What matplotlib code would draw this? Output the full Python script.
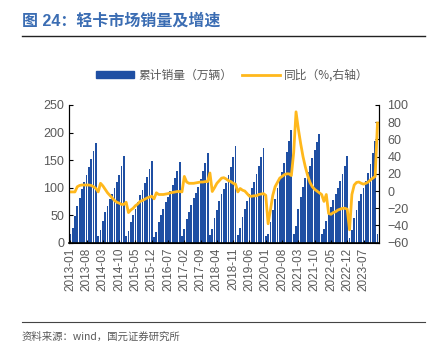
# 轻卡市场销量及增速 (2013-01 ~ 2024-01)

import numpy as np
import pandas as pd
import matplotlib
matplotlib.use('Agg')
import matplotlib.pyplot as plt
from matplotlib.patches import Patch
from matplotlib.lines import Line2D

plt.rcParams['font.family'] = ['Liberation Sans', 'Noto Sans CJK SC', 'DejaVu Sans']

months = [str(p) for p in pd.period_range('2013-01', '2024-01', freq='M')]

# 累计销量（万辆）, 每年一行
sales_2013 = [15, 27, 48, 66, 82, 97, 110, 123, 138, 152, 167, 181]
sales_2014 = [13, 23, 40, 55, 67, 79, 89, 100, 110, 122, 140, 157]
sales_2015 = [12, 21, 38, 51, 62, 74, 86, 96, 108, 120, 133, 148]
sales_2016 = [11, 20, 37, 50, 62, 73, 83, 93, 105, 118, 131, 147]
sales_2017 = [12, 24, 43, 56, 69, 81, 91, 101, 115, 130, 145, 163]
sales_2018 = [14, 25, 45, 60, 75, 88, 98, 109, 123, 138, 155, 176]
sales_2019 = [14, 26, 47, 62, 76, 89, 100, 111, 124, 139, 155, 172]
sales_2020 = [13, 16, 38, 60, 80, 100, 115, 128, 145, 165, 184, 204]
sales_2021 = [16, 31, 62, 83, 101, 118, 129, 140, 153, 168, 183, 198]
sales_2022 = [15, 24, 40, 52, 64, 78, 88, 99, 112, 125, 140, 157]
sales_2023 = [9, 23, 45, 60, 75, 89, 100, 112, 126, 142, 163, 184]
sales_2024 = [16]

# 同比（%）
yoy_2013 = [-1, -1, -1, 5, 6.5, 7, 7, 7, 7, 6.5, 5, 3]
yoy_2014 = [-1, 9, 6, 2, -2, -5, -8, -11, -13, -14, -15.5, -15.5]
yoy_2015 = [-13, -25, -22, -20, -17, -15, -12, -11, -9.5, -8, -7, -6]
yoy_2016 = [-9, -2, -4, -4, -4, -3.5, -3, -2, -1.6, -1, -0.5, -0.5]
yoy_2017 = [-1, 17, 10.5, 9, 9, 9, 9.5, 10, 10.5, 10.5, 11, 11]
yoy_2018 = [21, -0.5, 4, 9, 12, 15, 15.5, 14, 12, 11, 9, 8]
yoy_2019 = [-1, 3, 1, 0, -3, -6, -6, -5.5, -5.5, -4, -3.5, -3]
yoy_2020 = [-5, -38, -22, -5, 5, 10, 15, 17, 19, 20, 20, 18]
yoy_2021 = [45, 92, 72, 55, 40, 28, 18, 10, 5, 2, 0, -2]
yoy_2022 = [-4, -12, -4, -26, -27, -25, -24, -22, -21, -20, -20, -21]
yoy_2023 = [-45, -4, 7, 10, 10.5, 9, 8, 9, 10.5, 13, 15, 17]
yoy_2024 = [79]

sales = (sales_2013 + sales_2014 + sales_2015 + sales_2016 + sales_2017 + sales_2018
         + sales_2019 + sales_2020 + sales_2021 + sales_2022 + sales_2023 + sales_2024)
yoy = (yoy_2013 + yoy_2014 + yoy_2015 + yoy_2016 + yoy_2017 + yoy_2018
       + yoy_2019 + yoy_2020 + yoy_2021 + yoy_2022 + yoy_2023 + yoy_2024)

blue = '#1f4fa3'
gold = '#FFB81C'
title_blue = '#3b6db3'
gray = '#595959'

fig = plt.figure(figsize=(4.36, 3.51), dpi=100)
ax = fig.add_axes([0.158, 0.3085, 0.711, 0.3925])
x = np.arange(len(months))
ax.bar(x, sales, width=0.78, color=blue, linewidth=0)
ax.set_xlim(-0.6, len(months) - 0.4)
ax.set_ylim(0, 250)
ax.set_yticks(range(0, 251, 50))
ax.set_xticks(x[::7])
ax.set_xticklabels(months[::7], rotation=90, fontsize=8.5, color=gray)
ax.tick_params(axis='y', labelsize=9, labelcolor=gray, direction='in', length=3)
ax.tick_params(axis='x', direction='in', length=2)
ax.spines['top'].set_visible(False)
ax.spines['bottom'].set_linewidth(1.2)

ax2 = ax.twinx()
ax2.plot(x, yoy, color=gold, lw=2.0)
ax2.set_ylim(-60, 100)
ax2.set_yticks(range(-60, 101, 20))
ax2.tick_params(axis='y', labelsize=9, labelcolor=gray, direction='in', length=3, pad=6)
ax2.spines['top'].set_visible(False)

# legend
handles = [Patch(color=blue, label='累计销量（万辆）'),
           Line2D([0], [0], color=gold, lw=2.0, label='同比（%,右轴）')]
leg = fig.legend(handles=handles, loc='center', bbox_to_anchor=(0.533, 0.785), ncol=2,
                 frameon=False, handlelength=3.2, handleheight=0.55,
                 columnspacing=0.8, handletextpad=0.4,
                 prop={'family': ['Noto Sans CJK SC'], 'size': 8.5})
for t in leg.get_texts():
    t.set_color(gray)

# title and frame lines
fig.text(0.05, 0.942, '图 24：轻卡市场销量及增速', fontsize=11.5, fontweight='bold',
         color=title_blue, family=['Liberation Sans', 'Noto Sans CJK SC'], va='center')
fig.add_artist(Line2D([0.05, 0.975], [0.897, 0.897], color='#222222', lw=1.0))
fig.add_artist(Line2D([0.05, 0.975], [0.083, 0.083], color='#444444', lw=0.8))
fig.text(0.05, 0.04, '资料来源：wind，国元证券研究所', fontsize=7.5, color=gray,
         family=['Noto Sans CJK SC'], va='center')

fig.savefig('out.png', dpi=100)
